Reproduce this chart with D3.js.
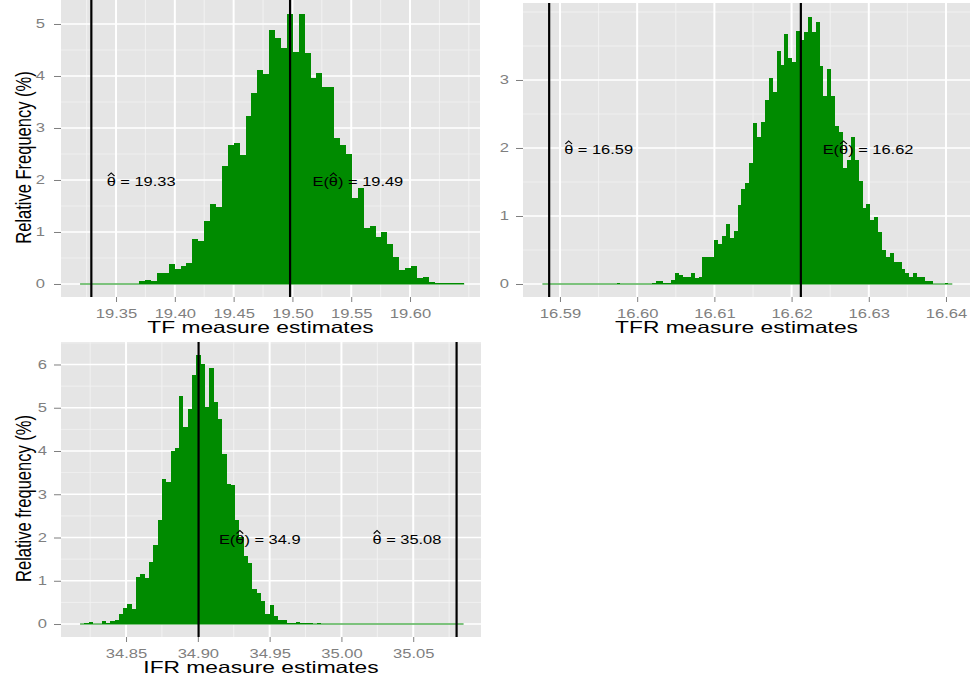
<!DOCTYPE html>
<html>
<head>
<meta charset="utf-8">
<script src="https://cdn.jsdelivr.net/npm/d3@7"></script>
<style>
  body { margin: 0; background: #fff; }
  svg text { font-family: "Liberation Sans", Arial, Helvetica, sans-serif; }
</style>
</head>
<body>
<div id="chart"></div>
<script>
// relative frequencies (%) per bin
const tfBinStart = 19.3194, tfBinWidth = 0.005026
const tfFreq = [0,0,0,0,0,0,0,0,0,0,
  0.06,0.08,0.06,0.22,0.22,0.38,0.29,0.35,0.41,0.86,
  0.83,1.22,1.54,1.48,2.26,2.67,2.71,2.48,3.23,3.67,
  4.12,4.04,4.88,4.73,4.54,5.19,4.46,5.19,4.45,3.97,
  4.06,3.78,3.78,2.81,2.67,2.50,1.65,1.84,1.07,1.12,
  0.90,1.00,0.77,0.51,0.27,0.31,0.35,0.11,0.13,0.03,
  0.02,0.02,0.01,0.02,0.01]

const tfrBinStart = 16.58772, tfrBinWidth = 0.0005057
const tfrFreq = [0,0,0,0,0,0,0,0,0,0,
  0,0,0,0,0,0,0,0,0,0.015,
  0,0,0,0,0,0,0,0,0.02,0.05,
  0.05,0.015,0.015,0.06,0.16,0.13,0.11,0.10,0.16,0.09,
  0.10,0.39,0.40,0.39,0.65,0.59,0.71,0.88,0.68,0.78,
  1.16,1.40,1.48,1.78,2.37,2.16,2.38,2.71,3.03,2.82,
  3.43,3.22,3.67,3.33,3.27,3.72,3.59,3.70,3.93,3.70,
  3.85,3.21,2.76,3.16,2.77,2.32,2.24,1.71,1.83,2.16,
  1.82,1.52,1.12,1.18,0.94,0.99,0.77,0.50,0.39,0.45,
  0.33,0.33,0.22,0.16,0.10,0.16,0.11,0.10,0.04,0.04,
  0,0,0,0.01,0]

const ifrBinStart = 34.81797, ifrBinWidth = 0.003001
const ifrFreq = [0.01,0.02,0.05,0.01,0.01,0.07,0.02,0.06,0.09,0.23,
  0.37,0.46,0.35,1.08,1.15,1.06,1.43,1.82,2.40,3.35,
  3.28,3.99,4.08,5.28,4.55,4.98,5.75,6.21,6.00,5.01,
  5.91,5.13,4.73,3.92,3.24,3.21,2.40,2.01,1.57,1.42,
  0.82,0.71,0.53,0.23,0.44,0.18,0.09,0.09,0.02,0.02,
  0.05,0.02,0.02,0.03,0.01,0.03,0,0,0,0,
  0,0,0,0,0,0,0,0,0,0,
  0,0,0,0,0,0,0,0,0,0,
  0,0,0,0,0,0,0,0,0]

// point estimate (theta hat) and bootstrap mean E(theta hat)
const tfTheta = 19.329, tfMean = 19.498
const tfrTheta = 16.5886, tfrMean = 16.6212
const ifrTheta = 35.0802, ifrMean = 34.9005

const tfTicks = [19.35, 19.40, 19.45, 19.50, 19.55, 19.60]
const tfrTicks = [16.59, 16.60, 16.61, 16.62, 16.63, 16.64]
const ifrTicks = [34.85, 34.90, 34.95, 35.00, 35.05]

const green = "#008b00"
const stretch = 1.38   // reference is stretched sideways, text too

const svg = d3.select("#chart").append("svg")
  .attr("width", 972)
  .attr("height", 680)

function drawPanel(cfg) {
  const x = d3.scaleLinear().domain(cfg.xDomain).range([cfg.x0, cfg.x1])
  const y = d3.scaleLinear().domain(cfg.yDomain).range([cfg.y1, cfg.y0])
  const g = svg.append("g")

  g.append("rect")
    .attr("x", cfg.x0).attr("y", cfg.y0)
    .attr("width", cfg.x1 - cfg.x0).attr("height", cfg.y1 - cfg.y0)
    .attr("fill", "#e5e5e5")

  // minor grid: half steps between majors
  const xMinor = d3.range(Math.ceil(cfg.xDomain[0] / (cfg.xStep / 2)), Math.floor(cfg.xDomain[1] / (cfg.xStep / 2)) + 1)
    .map(k => k * cfg.xStep / 2)
    .filter(v => !cfg.xTicks.some(t => Math.abs(t - v) < cfg.xStep / 10))
  const yMinor = d3.range(Math.ceil(cfg.yDomain[0] / 0.5), Math.floor(cfg.yDomain[1] / 0.5) + 1)
    .map(k => k * 0.5)
    .filter(v => !cfg.yTicks.includes(v))

  g.selectAll(".xminor").data(xMinor).join("line")
    .attr("x1", d => x(d)).attr("x2", d => x(d))
    .attr("y1", cfg.y0).attr("y2", cfg.y1)
    .attr("stroke", "#f2f2f2").attr("stroke-width", 1)
  g.selectAll(".yminor").data(yMinor).join("line")
    .attr("y1", d => y(d)).attr("y2", d => y(d))
    .attr("x1", cfg.x0).attr("x2", cfg.x1)
    .attr("stroke", "#f2f2f2").attr("stroke-width", 0.8)
  g.selectAll(".xmajor").data(cfg.xTicks).join("line")
    .attr("x1", d => x(d)).attr("x2", d => x(d))
    .attr("y1", cfg.y0).attr("y2", cfg.y1)
    .attr("stroke", "#fff").attr("stroke-width", 2)
  g.selectAll(".ymajor").data(cfg.yTicks).join("line")
    .attr("y1", d => y(d)).attr("y2", d => y(d))
    .attr("x1", cfg.x0).attr("x2", cfg.x1)
    .attr("stroke", "#fff").attr("stroke-width", 1.5)

  // histogram bars
  const bins = cfg.freq.map((f, i) => ({
    x0: cfg.binStart + i * cfg.binWidth,
    x1: cfg.binStart + (i + 1) * cfg.binWidth,
    f: f
  }))
  g.selectAll(".bar").data(bins.filter(d => d.f > 0)).join("rect")
    .attr("x", d => x(d.x0))
    .attr("width", d => x(d.x1) - x(d.x0))
    .attr("y", d => y(d.f))
    .attr("height", d => y(0) - y(d.f))
    .attr("fill", green)
    .attr("shape-rendering", "crispEdges")
  // empty bins still leave their outline along zero
  g.append("line")
    .attr("x1", x(bins[0].x0)).attr("x2", x(bins[bins.length - 1].x1))
    .attr("y1", y(0)).attr("y2", y(0))
    .attr("stroke", green).attr("stroke-width", 1.2)

  // vertical reference lines
  g.selectAll(".vline").data([cfg.theta, cfg.mean]).join("line")
    .attr("x1", d => x(d)).attr("x2", d => x(d))
    .attr("y1", cfg.y0).attr("y2", cfg.y1)
    .attr("stroke", "#000").attr("stroke-width", 2.2)

  // annotations
  cfg.labels.forEach(l => annotate(g, x(l.x), y(2), l.pre, l.value))

  // x axis
  const ax = g.append("g")
    .attr("transform", `translate(0,${cfg.y1})`)
    .call(d3.axisBottom(x).tickValues(cfg.xTicks).tickFormat(d3.format(".2f")).tickSize(5).tickPadding(7))
  ax.select(".domain").remove()
  ax.selectAll("line").attr("stroke", "#7f7f7f")
  ax.selectAll("text")
    .attr("fill", "#7f7f7f").attr("font-size", 12)
    .attr("transform", `scale(${stretch},1)`)

  // y axis
  const ay = g.append("g")
    .attr("transform", `translate(${cfg.x0},0)`)
    .call(d3.axisLeft(y).tickValues(cfg.yTicks).tickFormat(d3.format("d")).tickSize(7))
  ay.select(".domain").remove()
  ay.selectAll("line").attr("stroke", "#7f7f7f")
  ay.selectAll("text")
    .attr("fill", "#7f7f7f").attr("font-size", 12)
    .attr("x", -cfg.yLabelGap / stretch)
    .attr("transform", `scale(${stretch},1)`)

  // titles
  g.append("text")
    .attr("transform", `translate(${(cfg.x0 + cfg.x1) / 2 - 10},${cfg.y1 + 36}) scale(${stretch},1)`)
    .attr("text-anchor", "middle")
    .attr("font-size", 16.5)
    .attr("fill", "#000")
    .text(cfg.xTitle)
  if (cfg.yTitle) {
    g.append("text")
      .attr("transform", `translate(30.5,${(cfg.y0 + cfg.y1) / 2 + 9}) scale(${stretch},1) rotate(-90)`)
      .attr("text-anchor", "middle")
      .attr("font-size", 16.5)
      .attr("fill", "#000")
      .text(cfg.yTitle)
  }
}

function annotate(g, cx, cy, pre, value) {
  const fs = 11.9
  const ag = g.append("g").attr("transform", `translate(${cx},${cy + 6.5}) scale(${stretch},1)`)
  const t = ag.append("text")
    .attr("text-anchor", "middle")
    .attr("font-size", fs)
    .attr("fill", "#000")
    .text(pre === "E" ? `E(θ) = ${value}` : `θ = ${value}`)
  const idx = pre === "E" ? 2 : 0
  const ext = t.node().getExtentOfChar(idx)
  const hx = ext.x + ext.width / 2
  const top = -0.74 * fs
  ag.append("path")
    .attr("d", `M${hx - 2.4},${top - 1.6}L${hx},${top - 4.8}L${hx + 2.4},${top - 1.6}`)
    .attr("fill", "none")
    .attr("stroke", "#000")
    .attr("stroke-width", 0.9)
}

drawPanel({
  x0: 61, x1: 480, y0: 0, y1: 297,
  xDomain: [19.3032, 19.6595], yDomain: [-0.25, 5.4615],
  xTicks: tfTicks, xStep: 0.05, yTicks: [0, 1, 2, 3, 4, 5],
  binStart: tfBinStart, binWidth: tfBinWidth, freq: tfFreq,
  theta: tfTheta, mean: tfMean,
  labels: [{x: 19.3713, pre: "", value: "19.33"}, {x: 19.5556, pre: "E", value: "19.49"}],
  xTitle: "TF measure estimates", yTitle: "Relative Frequency (%)", yLabelGap: 16
})

drawPanel({
  x0: 523, x1: 970, y0: 3, y1: 297,
  xDomain: [16.58521, 16.64311], yDomain: [-0.191, 4.132],
  xTicks: tfrTicks, xStep: 0.01, yTicks: [0, 1, 2, 3],
  binStart: tfrBinStart, binWidth: tfrBinWidth, freq: tfrFreq,
  theta: tfrTheta, mean: tfrMean,
  labels: [{x: 16.5950, pre: "", value: "16.59"}, {x: 16.6299, pre: "E", value: "16.62"}],
  xTitle: "TFR measure estimates", yTitle: null, yLabelGap: 14
})

drawPanel({
  x0: 61, x1: 481, y0: 342, y1: 637,
  xDomain: [34.8047, 35.0972], yDomain: [-0.30, 6.52],
  xTicks: ifrTicks, xStep: 0.05, yTicks: [0, 1, 2, 3, 4, 5, 6],
  binStart: ifrBinStart, binWidth: ifrBinWidth, freq: ifrFreq,
  theta: ifrTheta, mean: ifrMean,
  labels: [{x: 34.9431, pre: "E", value: "34.9"}, {x: 35.0456, pre: "", value: "35.08"}],
  xTitle: "IFR measure estimates", yTitle: "Relative frequency (%)", yLabelGap: 14
})
</script>
</body>
</html>
